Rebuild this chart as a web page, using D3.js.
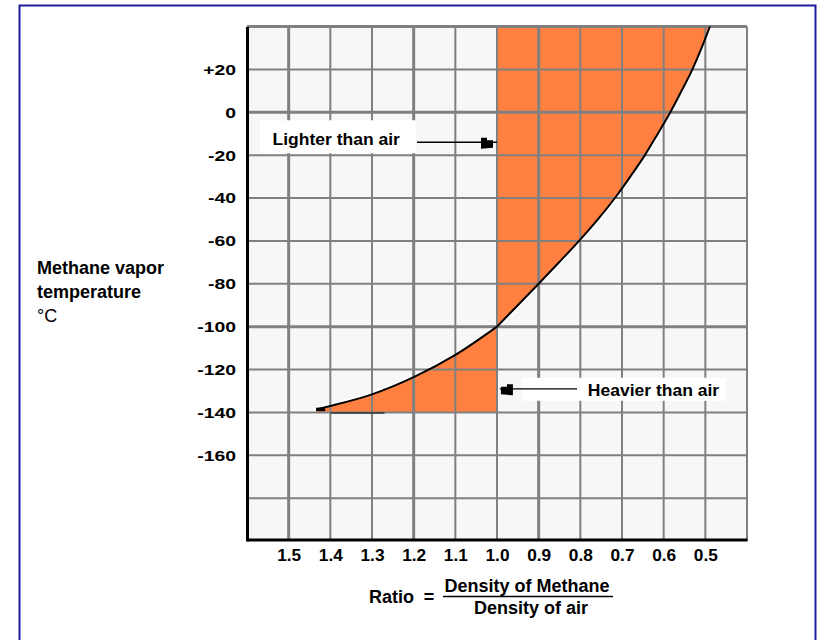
<!DOCTYPE html>
<html>
<head>
<meta charset="utf-8">
<script src="https://cdn.jsdelivr.net/npm/d3@7"></script>
<style>
  html, body { margin: 0; padding: 0; background: #ffffff; }
  svg { display: block; font-family: "Liberation Sans", Arial, sans-serif; }
</style>
</head>
<body>
<svg id="chart" width="821" height="640"></svg>
<script>
// ---- data ----
const upperTemps  = [-100, -90, -80, -70, -60, -50, -40, -30, -20, -10, 0, 10, 20, 30, 40];
const upperRatios = [1.0, 0.950, 0.900, 0.851, 0.803, 0.758, 0.717, 0.680, 0.645, 0.614, 0.584, 0.557, 0.531, 0.509, 0.489];
const lowerTemps  = [-138.6, -137.0, -131.6, -123.6, -113.2, -100];
const lowerRatios = [1.434, 1.4, 1.3, 1.2, 1.1, 1.0];
const xTicks = [1.5, 1.4, 1.3, 1.2, 1.1, 1.0, 0.9, 0.8, 0.7, 0.6, 0.5];
const yTicks = [20, 0, -20, -40, -60, -80, -100, -120, -140, -160];
const xGrid  = [1.5, 1.4, 1.3, 1.2, 1.1, 1.0, 0.9, 0.8, 0.7, 0.6, 0.5, 0.4];
const yGrid  = [40, 20, 0, -20, -40, -60, -80, -100, -120, -140, -160, -180];
const boundaryRatio = 1.0;
const lowerFloor = -140;
const annotations = [
  { text: "Lighter than air",  temp: -14,  from: 1.192, to: 1.0,   textAt: 1.233, side: "left",  dy: 3 },
  { text: "Heavier than air",  temp: -129, from: 0.808, to: 0.993, textAt: 0.782, side: "right", dy: 7 }
];

const svg = d3.select("#chart");

// frame
svg.append("rect").attr("x", 19.5).attr("y", 5.5).attr("width", 796).attr("height", 700)
  .attr("fill", "#ffffff").attr("stroke", "#1c1ca0").attr("stroke-width", 2);

const x = d3.scaleLinear().domain([1.6, 0.4]).range([247, 747]);
const y = d3.scaleLinear().domain([-200, 40]).range([541, 26.5]);

// plot background
svg.append("rect").attr("x", x(1.6)).attr("y", y(40)).attr("width", x(0.4) - x(1.6))
  .attr("height", y(-200) - y(40)).attr("fill", "#f7f7f7");

const upper = upperTemps.map((t, i) => ({ t, r: upperRatios[i] }));
const lower = lowerTemps.map((t, i) => ({ t, r: lowerRatios[i] }));

const line = d3.line().x(d => x(d.r)).y(d => y(d.t)).curve(d3.curveMonotoneX);

// white halo under the curve
[lower, upper].forEach(seg => {
  svg.append("path").attr("d", line(seg)).attr("fill", "none")
    .attr("stroke", "#ffffff").attr("stroke-width", 5.5).attr("stroke-linecap", "round");
});

// orange fills
const orange = "#ff8040";
const areaUpper = d3.area().x(d => x(d.r)).y0(y(40)).y1(d => y(d.t)).curve(d3.curveMonotoneX);
svg.append("path").attr("d", areaUpper(upper)).attr("fill", orange);
const areaLower = d3.area().x(d => x(d.r)).y0(y(lowerFloor)).y1(d => y(d.t)).curve(d3.curveMonotoneX);
svg.append("path").attr("d", areaLower(lower)).attr("fill", orange);

// grid
const heavyX = [1.5, 1.2, 0.9];
const heavyY = [0, -100];
svg.append("g").selectAll("line").data(xGrid).join("line")
  .attr("x1", d => x(d)).attr("x2", d => x(d)).attr("y1", y(40)).attr("y2", y(-200))
  .attr("stroke", "#808080").attr("stroke-width", d => heavyX.includes(d) ? 3 : 2);
svg.append("g").selectAll("line").data(yGrid).join("line")
  .attr("x1", x(1.6)).attr("x2", x(0.4)).attr("y1", d => y(d)).attr("y2", d => y(d))
  .attr("stroke", "#808080").attr("stroke-width", d => (heavyY.includes(d) || d === 40) ? 3 : 2);

// curve
[lower, upper].forEach(seg => {
  svg.append("path").attr("d", line(seg)).attr("fill", "none")
    .attr("stroke", "#000000").attr("stroke-width", 2);
});
svg.append("line").attr("x1", x(lower[0].r)).attr("x2", x(lower[0].r) + 9)
  .attr("y1", y(lower[0].t)).attr("y2", y(lower[0].t))
  .attr("stroke", "#000000").attr("stroke-width", 3.5);
// dark edge under lower fill
svg.append("line").attr("x1", x(1.40)).attr("x2", x(1.27))
  .attr("y1", y(lowerFloor) + 0.5).attr("y2", y(lowerFloor) + 0.5)
  .attr("stroke", "#333333").attr("stroke-width", 1.5);

// annotations
annotations.forEach(a => {
  const yy = y(a.temp);
  const g = svg.append("g");
  let bx0, bx1, by0, bh;
  if (a.side === "left") { bx0 = x(a.textAt) - 140; bx1 = x(a.from) - 1; by0 = yy - 22; bh = 33; }
  else { bx0 = x(a.to) + 22; bx1 = x(a.textAt) + 138; by0 = yy - 11; bh = 23; }
  g.append("rect").attr("x", bx0).attr("y", by0).attr("width", bx1 - bx0).attr("height", bh)
    .attr("fill", "#ffffff");
  g.append("line").attr("x1", x(a.from)).attr("x2", x(a.to)).attr("y1", yy).attr("y2", yy)
    .attr("stroke", "#000000").attr("stroke-width", 1.3);
  const dir = a.side === "left" ? 1 : -1;
  const pts = [[-15, -4.5], [-9, -4.5], [-9, -2], [-3, -2], [-3, 5.5], [-15, 6.5]];
  const ex = a.side === "left" ? x(a.to) - 1 : x(a.to) - 2;
  g.append("polygon")
    .attr("points", pts.map(p => [ex + dir * p[0], yy + p[1]].join(",")).join(" "))
    .attr("fill", "#000000");
  g.append("text")
    .attr("transform", `translate(${x(a.textAt)},${yy + a.dy}) scale(1.03,1)`)
    .attr("text-anchor", a.side === "left" ? "end" : "start")
    .attr("font-size", 17).attr("font-weight", "bold").attr("fill", "#000")
    .text(a.text);
});

// axes
const yAxis = d3.axisLeft(y).tickValues(yTicks).tickSize(0).tickSizeOuter(0).tickPadding(8.8)
  .tickFormat(d => d > 0 ? "+" + d : String(d));
const gy = svg.append("g").attr("transform", `translate(${x(1.6)},0)`).call(yAxis);
gy.select(".domain").attr("stroke", "#000").attr("stroke-width", 3);
gy.selectAll("text").attr("font-size", 15.5).attr("font-weight", "bold")
  .attr("font-family", "'Liberation Sans', Arial, sans-serif").attr("fill", "#000")
  .attr("transform", "scale(1.25,1)");

const xAxis = d3.axisBottom(x).tickValues(xTicks).tickSize(0).tickSizeOuter(0).tickPadding(10)
  .tickFormat(d3.format(".1f"));
const gx = svg.append("g").attr("transform", `translate(0,${y(-200) - 1.5})`).call(xAxis);
gx.select(".domain").attr("stroke", "#000").attr("stroke-width", 3);
gx.selectAll("text").attr("font-size", 16).attr("font-weight", "bold")
  .attr("font-family", "'Liberation Sans', Arial, sans-serif").attr("fill", "#000")
  .attr("transform", "scale(1.08,1)");

// y title
const yTitle = ["Methane vapor", "temperature"];
svg.append("g").selectAll("text").data(yTitle).join("text")
  .attr("x", 37).attr("y", (d, i) => 274 + i * 24)
  .attr("font-size", 18).attr("font-weight", "bold").text(d => d);
svg.append("text").attr("x", 37).attr("y", 322).attr("font-size", 18).text("°C");

// x title (ratio fraction)
svg.append("text").attr("x", 369).attr("y", 603).attr("font-size", 18).attr("font-weight", "bold").text("Ratio");
svg.append("text").attr("x", 429).attr("y", 603).attr("text-anchor", "middle").attr("font-size", 18).attr("font-weight", "bold").text("=");
svg.append("line").attr("x1", 443).attr("x2", 613).attr("y1", 596.5).attr("y2", 596.5)
  .attr("stroke", "#000").attr("stroke-width", 1.6);
svg.append("text").attr("x", 527).attr("y", 592).attr("text-anchor", "middle").attr("font-size", 18).attr("font-weight", "bold").text("Density of Methane");
svg.append("text").attr("x", 531).attr("y", 614).attr("text-anchor", "middle").attr("font-size", 18).attr("font-weight", "bold").text("Density of air");
</script>
</body>
</html>
